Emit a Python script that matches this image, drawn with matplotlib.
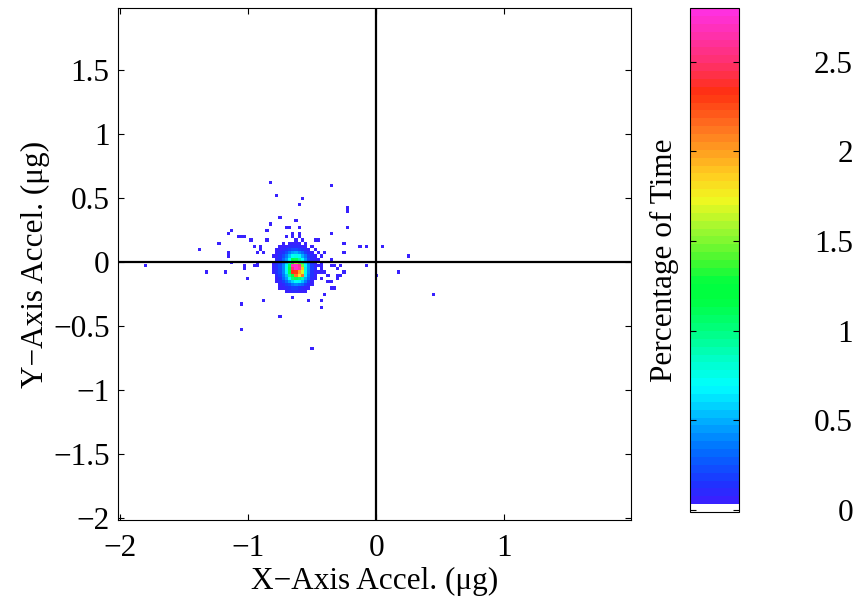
import numpy as np
import matplotlib
matplotlib.use("Agg")
import matplotlib.pyplot as plt
from matplotlib.colors import ListedColormap, to_rgb

plt.rcParams["font.family"] = ["Liberation Serif", "DejaVu Serif"]

# bin centres of the dense part of the histogram (percentage of time per cell)
core_x = [-0.8, -0.775, -0.75, -0.725, -0.7, -0.675, -0.65, -0.625,
          -0.6, -0.575, -0.55, -0.525, -0.5, -0.475, -0.45, -0.425]
core_y = [0.15, 0.125, 0.1, 0.075, 0.05, 0.025, 0.0, -0.025,
          -0.05, -0.075, -0.1, -0.125, -0.15, -0.175, -0.2, -0.225]
core_pct = [
    [0, 0, 0, .04, 0, .04, .04, .04, .04, 0, .04, 0, 0, 0, 0, 0],
    [0, 0, .04, .04, .04, .1, .1, .1, .1, .04, .04, 0, .04, 0, 0, 0],
    [0, .04, .04, .1, .15, .2, .25, .25, .2, .15, .1, .04, 0, .04, 0, 0],
    [0, .04, .1, .15, .25, .35, .45, .5, .4, .3, .2, .1, .04, 0, .04, 0],
    [.04, .04, .15, .25, .35, .55, .7, .75, .65, .5, .35, .2, .1, .04, 0, .04],
    [0, .1, .15, .3, .45, .7, 1.15, 1.1, .95, .7, .45, .25, .1, .04, .04, 0],
    [.04, .1, .2, .35, .55, .9, 1.3, 1.6, 1.4, 1.0, .6, .35, .15, .04, 0, .04],
    [.04, .15, .25, .4, .65, 1.1, 2.7, 2.75, 2.6, 1.5, .7, .4, .2, .04, .04, .04],
    [.04, .1, .25, .4, .7, 1.2, 2.5, 2.75, 2.65, 1.9, .8, .4, .2, .1, 0, .04],
    [.04, .15, .25, .4, .65, 1.1, 2.35, 2.3, 2.0, 1.7, .75, .4, .15, .04, .04, .04],
    [0, .1, .2, .35, .55, .95, 1.2, 2.1, 1.8, 2.1, .65, .35, .15, .04, 0, 0],
    [0, .04, .15, .3, .45, .7, 1.0, 1.1, 1.0, .9, .5, .3, .1, .04, 0, .04],
    [0, .04, .1, .2, .3, .45, .6, .7, .65, .55, .35, .2, .04, 0, 0, 0],
    [0, 0, .04, .1, .2, .25, .35, .4, .35, .3, .2, .1, .04, 0, 0, 0],
    [0, 0, .04, .04, .1, .15, .2, .2, .15, .1, .04, .04, 0, 0, 0, 0],
    [0, 0, 0, 0, .04, .04, .1, .1, .04, .04, .04, 0, 0, 0, 0, 0],
]

# isolated single-sample cells
single_x = [-0.35, -0.225, -0.225, -0.225, -0.35, -0.25, -0.125, -0.075, 0.05, 0.25,
            -0.25, -0.4, -0.35, -0.35, -0.325, -0.275, -0.075, -0.3, -0.4, -0.25,
            -0.375, -0.3, -0.275, -0.3, 0.0, 0.175, -0.375, -0.35, -0.35, -0.325,
            -0.4, -0.425, -0.425, 0.45,
            -1.125, -1.15, -1.075, -1.05, -1.025, -0.975, -1.225, -0.95, -0.9, -1.375,
            -1.15, -1.15, -0.925, -1.125, -0.925, -1.025, -1.025, -0.95, -0.925, -1.325,
            -1.175, -1.0, -1.05, -1.05, -1.8, -0.9, -0.875,
            -0.825, -0.775, -0.575, -0.6, -0.75, -0.625, -0.825, -0.7, -0.675, -0.6,
            -0.85, -0.65, -0.6, -0.6, -0.7, -0.65, -0.85, -0.625, -0.575, -0.475, -0.45,
            -0.5, -0.525, -0.875, -0.75, -0.65]
single_y = [0.6, 0.425, 0.4, 0.275, 0.225, 0.15, 0.125, 0.125, 0.125, 0.05,
            0.075, 0.075, 0.025, -0.025, -0.025, -0.025, -0.025, -0.05, -0.075, -0.075,
            -0.1, -0.1, -0.1, -0.125, -0.1, -0.075, -0.15, -0.15, -0.2, -0.2,
            -0.25, -0.3, -0.35, -0.25,
            0.25, 0.225, 0.2, 0.2, 0.2, 0.175, 0.15, 0.125, 0.125, 0.1,
            0.075, 0.05, 0.075, 0.0, 0.0, -0.025, -0.05, -0.025, -0.025, -0.075,
            -0.075, -0.125, -0.325, -0.525, -0.025, 0.1, 0.075,
            0.625, 0.525, 0.5, 0.45, 0.35, 0.325, 0.3, 0.275, 0.275, 0.275,
            0.25, 0.225, 0.225, 0.2, 0.2, 0.2, 0.175, 0.175, 0.175, 0.175, 0.175,
            -0.675, -0.3, -0.3, -0.425, -0.275]
single_pct = 0.04

# colorbar colour stops
stop_val = [0.04, 0.15, 0.34, 0.5, 0.69, 0.84, 1.0, 1.17, 1.27, 1.38, 1.5, 1.57,
            1.73, 1.86, 2.0, 2.14, 2.33, 2.5, 2.78]
stop_col = ["#3c1eff", "#1e32ff", "#0070ff", "#00b0ff", "#00ffff", "#00ffc8",
            "#00ff80", "#00ff40", "#00ff40", "#40f830", "#80f830", "#a0f830",
            "#f0f820", "#ffd020", "#ffa020", "#ff7020", "#ff3010", "#ff3070", "#ff30e0"]
vmin, vmax, ncol = -0.012, 2.8, 64

# build the point list fed to hist2d
xs, ys, ws = [], [], []
for i, yv in enumerate(core_y):
    for j, xv in enumerate(core_x):
        if core_pct[i][j] > 0:
            xs.append(xv)
            ys.append(yv)
            ws.append(core_pct[i][j])
for xv, yv in zip(single_x, single_y):
    xs.append(xv)
    ys.append(yv)
    ws.append(single_pct)

# colormap: first entry white, then interpolated stops
rgb = np.array([to_rgb(c) for c in stop_col])
centres = vmin + (np.arange(ncol) + 0.5) * (vmax - vmin) / ncol
cols = np.column_stack([np.interp(centres, stop_val, rgb[:, k]) for k in range(3)])
cols[0] = [1, 1, 1]
cmap = ListedColormap(cols)

edges = np.linspace(-2.0125, 1.9875, 161)
fs = 22.5

fig = plt.figure(figsize=(8.61, 6.08), dpi=100)
ax = fig.add_axes([118 / 861, 88 / 608, 513 / 861, 512 / 608])
h = ax.hist2d(xs, ys, bins=[edges, edges], weights=ws, cmap=cmap,
              vmin=vmin, vmax=vmax, cmin=1e-6)
ax.axhline(0, color="black", lw=1.6)
ax.axvline(0, color="black", lw=1.6)
ax.set_xlim(-2.0125, 1.9875)
ax.set_ylim(-2.0125, 1.9875)
ax.set_xticks([-2, -1, 0, 1])
ax.set_xticklabels(["\u22122", "\u22121", "0", "1"])
ax.set_yticks([-2, -1.5, -1, -0.5, 0, 0.5, 1, 1.5])
ax.set_yticklabels(["\u22122", "\u22121.5", "\u22121", "\u22120.5", "0", "0.5", "1", "1.5"])
ax.tick_params(direction="in", top=True, right=True, length=4, labelsize=fs)
ax.tick_params(axis="x", pad=10)
ax.tick_params(axis="y", pad=6)
ax.set_xlabel("X\u2212Axis Accel. (\u03bcg)", fontsize=fs, labelpad=3)
ax.set_ylabel("Y\u2212Axis Accel. (\u03bcg)", fontsize=fs, labelpad=2)

cax = fig.add_axes([690 / 861, 96 / 608, 49 / 861, 504 / 608])
cb = fig.colorbar(h[3], cax=cax)
cb.set_ticks([0, 0.5, 1, 1.5, 2, 2.5])
cb.set_ticklabels(["0", "0.5", "1", "1.5", "2", "2.5"])
cax.tick_params(direction="in", left=True, right=True, labelleft=False,
                labelright=True, length=4, labelsize=fs, pad=82)
for t in cax.get_yticklabels():
    t.set_horizontalalignment("right")
cax.set_ylabel("Percentage of Time", fontsize=fs, labelpad=8)
cax.yaxis.set_label_position("left")

fig.savefig("out.png", dpi=100)
